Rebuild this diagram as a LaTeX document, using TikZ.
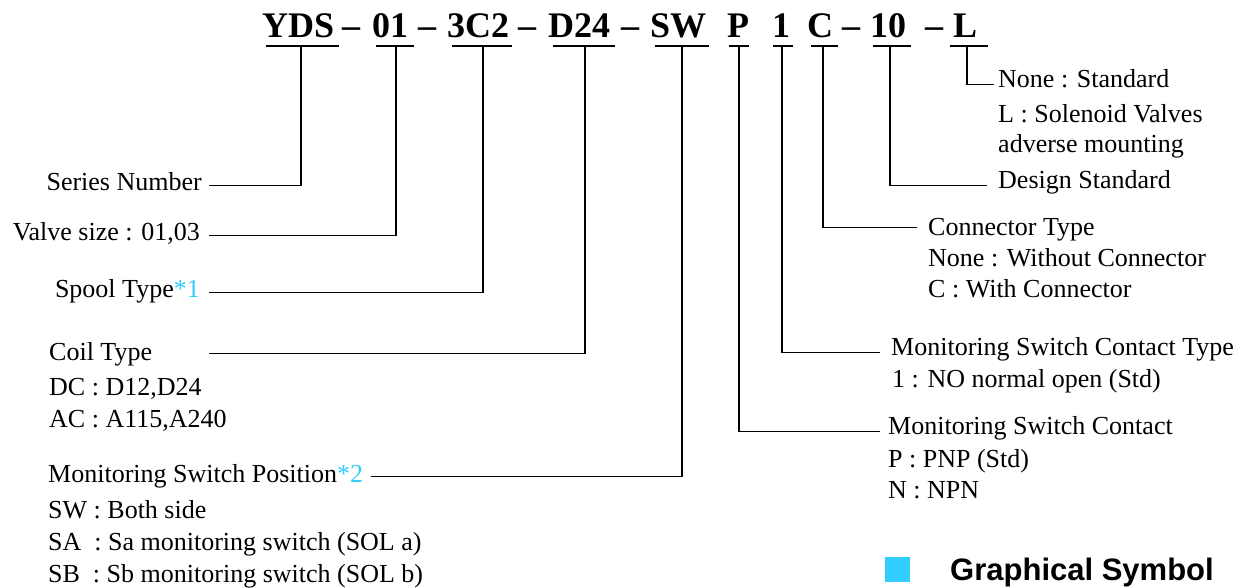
\documentclass[tikz,border=0pt]{standalone}
\usepackage{fontspec}
\setmainfont{Liberation Serif}
\newfontfamily\gsfont{Liberation Sans}
\definecolor{noteblue}{HTML}{33CCFF}
\begin{document}
\begin{tikzpicture}[x=1pt,y=-1pt,
  lbl/.style={inner sep=0pt, font=\fontsize{26}{32}\selectfont, anchor=base west},
  lblr/.style={lbl, anchor=base east},
  ttl/.style={inner sep=0pt, font=\fontsize{36}{40}\selectfont\bfseries, anchor=base west},
  conn/.style={line width=1.5pt},
  uline/.style={line width=2pt}]
\useasboundingbox (0,0) rectangle (1255,587);

% title tokens
\node[ttl] (tYDS) at (262,37) {YDS};
\node[ttl] (d1) at (342,37) {–};
\node[ttl] (t01) at (372,37) {01};
\node[ttl] (d2) at (418,37) {–};
\node[ttl] (t3C2) at (447,37) {3C2};
\node[ttl] (d3) at (518,37) {–};
\node[ttl] (tD24) at (548,37) {D24};
\node[ttl] (d4) at (621,37) {–};
\node[ttl] (tSW) at (650,37) {SW};
\node[ttl] (tP) at (727,37) {P};
\node[ttl] (t1) at (772,37) {1};
\node[ttl] (tC) at (807,37) {C};
\node[ttl] (d5) at (842,37) {–};
\node[ttl] (t10) at (870,37) {10};
\node[ttl] (d6) at (925,37) {–};
\node[ttl] (tL) at (953,37) {L};

% underlines
\draw[uline] (266,46) -- (339,46);
\draw[uline] (376,46) -- (414,46);
\draw[uline] (452,46) -- (512,46);
\draw[uline] (553,46) -- (615,46);
\draw[uline] (655,46) -- (709,46);
\draw[uline] (729,46) -- (749,46);
\draw[uline] (773,46) -- (793,46);
\draw[uline] (811,46) -- (838,46);
\draw[uline] (873,46) -- (911,46);
\draw[uline] (950,46) -- (988,46);

\coordinate (uYDS) at (301,46);
\coordinate (u01) at (396,46);
\coordinate (u3C2) at (483,46);
\coordinate (uD24) at (585,46);
\coordinate (uSW) at (682,46);
\coordinate (uP) at (739,46);
\coordinate (u1) at (782,46);
\coordinate (uC) at (823,46);
\coordinate (u10) at (890,46);
\coordinate (uL) at (967,46);
\coordinate (sx) at (209,0);

% left labels
\node[lblr] (lSer) at (202,190) {Series Number};
\node[lblr] (lVal) at (200,240) {Valve size : 01,03};
\node[lblr] (lSpool) at (200,297) {Spool Type\textcolor{noteblue}{*1}};
\node[lbl] (lCoil) at (49,360) {Coil Type};
\node[lbl] (lCoil2) at (49,395) {DC : D12,D24};
\node[lbl] (lCoil3) at (49,427) {AC : A115,A240};
\node[lbl] (lMSP) at (48,482) {Monitoring Switch Position\textcolor{noteblue}{*2}};
\node[lbl] (lMSP2) at (48,518) {SW : Both side};
\node[lbl] (lMSP3) at (48,550) {SA\ \ : Sa monitoring switch (SOL a)};
\node[lbl] (lMSP4) at (48,582) {SB\ \ : Sb monitoring switch (SOL b)};

% right labels
\node[lbl] (lNone) at (998,87) {None : Standard};
\node[lbl] (lNone2) at (998,122) {L : Solenoid Valves};
\node[lbl] (lNone3) at (998,152) {adverse mounting};
\node[lbl] (lDes) at (998,188) {Design Standard};
\node[lbl] (lConn) at (928,235) {Connector Type};
\node[lbl] (lConn2) at (928,266) {None : Without Connector};
\node[lbl] (lConn3) at (928,297) {C : With Connector};
\node[lbl] (lMSCT) at (891,355) {Monitoring Switch Contact Type};
\node[lbl] (lMSCT2) at (892,387) {1 : NO normal open (Std)};
\node[lbl] (lMSC) at (888,434) {Monitoring Switch Contact};
\node[lbl] (lMSC2) at (888,467) {P : PNP (Std)};
\node[lbl] (lMSC3) at (888,498) {N : NPN};

% connectors
\draw[conn] ([xshift=7pt,yshift=2pt]lSer.mid east) -| (uYDS);
\draw[conn] ([xshift=9pt,yshift=2pt]lVal.mid east) -| (u01);
\draw[conn] ([xshift=9pt,yshift=2pt]lSpool.mid east) -| (u3C2);
\draw[conn] ([yshift=4pt]lCoil.mid -| sx) -| (uD24);
\draw[conn] ([xshift=8pt,yshift=3pt]lMSP.mid east) -| (uSW);
\draw[conn] (uP) |- ([xshift=-8pt]lMSC.mid west);
\draw[conn] (u1) |- ([xshift=-11pt]lMSCT.mid west);
\draw[conn] (uC) |- ([xshift=-11pt,yshift=5pt]lConn.mid west);
\draw[conn] (u10) |- ([xshift=-11pt]lDes.mid west);
\draw[conn] (uL) |- ([xshift=-4pt]lNone.mid west);

% graphical symbol heading
\node[fill=noteblue, minimum size=25pt, inner sep=0pt, anchor=north west] (sq) at (885,557) {};
\node[inner sep=0pt, anchor=base west, font=\gsfont\bfseries\fontsize{31}{36}\selectfont] (gs) at (950,580) {Graphical Symbol};
\end{tikzpicture}
\end{document}
